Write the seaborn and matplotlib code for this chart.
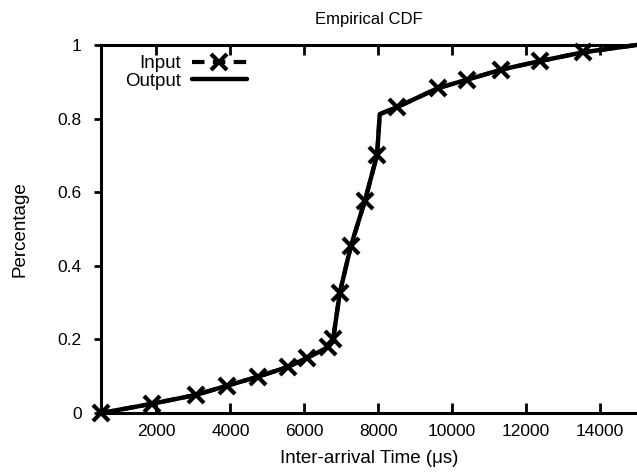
import matplotlib
matplotlib.use("Agg")
import matplotlib.pyplot as plt
import seaborn as sns

# Input series (the 8040 point is the corner of the curve, drawn without a marker)
input_x = [505, 1870, 3060, 3900, 4760, 5570, 6060, 6650, 6780, 6960, 7260, 7640, 7970, 8040,
           8510, 9620, 10390, 11330, 12370, 13540, 15000]
input_y = [0.0, 0.025, 0.049, 0.074, 0.099, 0.126, 0.149, 0.179, 0.201, 0.327, 0.454, 0.577, 0.702, 0.812,
           0.831, 0.883, 0.905, 0.933, 0.956, 0.98, 1.0]

# Output series, lies on top of the input curve
output_x = [505, 1870, 3060, 3900, 4760, 5570, 6060, 6650, 6780, 6960, 7260, 7640, 7970, 8040,
            8510, 9620, 10390, 11330, 12370, 13540, 15000]
output_y = [0.0, 0.025, 0.049, 0.074, 0.099, 0.126, 0.149, 0.179, 0.201, 0.327, 0.454, 0.577, 0.702, 0.812,
            0.831, 0.883, 0.905, 0.933, 0.956, 0.98, 1.0]

corner = 13
marks = [i for i in range(len(input_x) - 1) if i != corner]

sns.set_style("ticks", {"axes.edgecolor": "black", "text.color": "black",
                        "axes.labelcolor": "black", "xtick.color": "black", "ytick.color": "black"})
plt.rcParams['font.family'] = ['Liberation Sans', 'DejaVu Sans']
plt.rcParams['font.size'] = 13.5

fig = plt.figure(figsize=(6.37, 4.73), dpi=100)
ax = fig.add_axes([0.1586, 0.1268, 0.8414, 0.7782])

sns.lineplot(x=input_x, y=input_y, ax=ax, color="black", linewidth=3, linestyle=(0, (3, 2)),
             marker="x", markersize=11, markeredgewidth=3, markeredgecolor="black",
             markevery=marks, label="Input", clip_on=False)
sns.lineplot(x=output_x, y=output_y, ax=ax, color="black", linewidth=3.2,
             label="Output", clip_on=False)

ax.set_xlim(500, 15000)
ax.set_ylim(0, 1)
ax.set_xticks([2000, 4000, 6000, 8000, 10000, 12000, 14000])
ax.set_yticks([0, 0.2, 0.4, 0.6, 0.8, 1.0])
ax.set_yticklabels(["0", "0.2", "0.4", "0.6", "0.8", "1"])
ax.tick_params(axis="x", direction="in", length=7, width=2, top=True, pad=8, labelsize=12.5)
ax.tick_params(axis="y", direction="out", length=5, width=2, right=False, pad=9, labelsize=12.5)
ax.spines["right"].set_visible(False)
for s in ["left", "top", "bottom"]:
    ax.spines[s].set_linewidth(2.2)

ax.set_title("Empirical CDF", fontsize=12, pad=15)
ax.set_xlabel("Inter-arrival Time (\u03bcs)", labelpad=8)
ax.set_ylabel("Percentage", labelpad=21)

ax.legend(loc="upper left", bbox_to_anchor=(0.045, 0.972), frameon=False, markerfirst=False,
          handlelength=2.9, borderpad=0, labelspacing=0.02, handletextpad=0.6, borderaxespad=0)

fig.savefig("out.png", dpi=100)
